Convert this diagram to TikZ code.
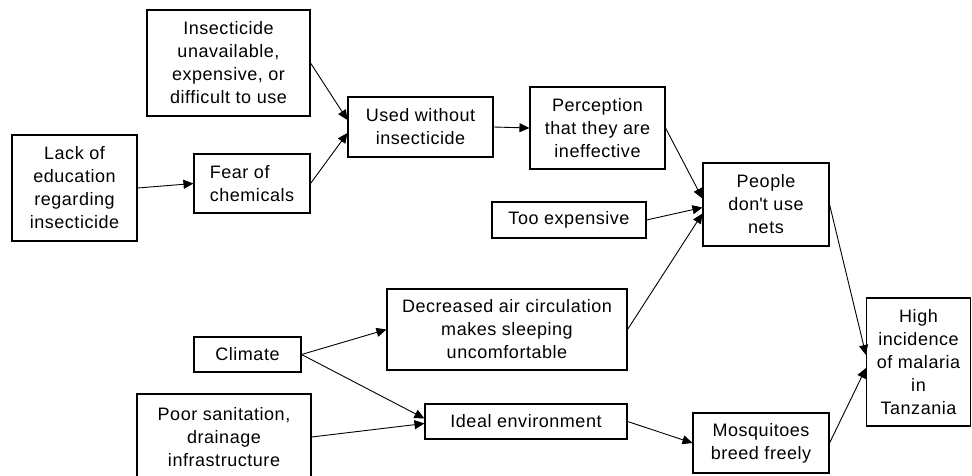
\documentclass[tikz,border=0pt]{standalone}
\usepackage{fontspec}
\setmainfont{Liberation Sans}[LetterSpace=3]
\usetikzlibrary{arrows.meta}
\begin{document}
\begin{tikzpicture}[x=1pt,y=-1pt,
  box/.style={draw=black,line width=1.1pt,inner sep=0pt,align=center,
    font={\fontsize{18}{23}\selectfont}},
  arr/.style={draw=black,line width=0.9pt,-{Triangle[length=10pt,width=9pt]}}]
  % page frame
  \fill[white] (0,0) rectangle (972,476);
  \useasboundingbox (0,0) rectangle (972,476);

  % causes
  \node[box,minimum width=163pt,minimum height=106pt] (insect) at (228.5,63)
    {Insecticide\\unavailable,\\expensive, or\\difficult to use};
  \node[box,minimum width=125pt,minimum height=106pt] (lack) at (74.5,188)
    {Lack of\\education\\regarding\\insecticide};
  \node[box,align=left,minimum width=116pt,minimum height=59pt] (fear) at (252,183.5)
    {Fear of\\chemicals};
  \node[box,minimum width=145pt,minimum height=60pt] (used) at (420.5,127)
    {Used without\\insecticide};
  \node[box,minimum width=135pt,minimum height=82pt] (percep) at (597.5,128)
    {Perception\\that they are\\ineffective};
  \node[box,minimum width=154pt,minimum height=36pt] (tooexp) at (569,220)
    {Too expensive};
  \node[box,minimum width=126pt,minimum height=83pt] (people) at (766,204.5)
    {People\\don\textquotesingle t use\\nets};
  \node[box,minimum width=107pt,minimum height=35pt] (climate) at (247.5,354.5)
    {Climate};
  \node[box,minimum width=240pt,minimum height=81pt] (decr) at (507,329.5)
    {Decreased air circulation\\makes sleeping\\uncomfortable};
  \node[box,minimum width=174pt,minimum height=86pt] (poor) at (224,437)
    {Poor sanitation,\\drainage\\infrastructure};
  \node[box,minimum width=202pt,minimum height=35pt] (ideal) at (526,421.5)
    {Ideal environment};
  \node[box,minimum width=136pt,minimum height=60pt] (mosq) at (761,443)
    {Mosquitoes\\breed freely};
  \node[box,minimum width=104pt,minimum height=128pt] (high) at (918.5,362)
    {High\\incidence\\of malaria\\in\\Tanzania};

  % connectors
  \draw[arr] (insect.east) -- ([yshift=7pt]used.west);
  \draw[arr] (fear.east) -- ([yshift=-6pt]used.west);
  \draw[arr] (lack.east) -- (fear.west);
  \draw[arr] (used.east) -- (percep.west);
  \draw[arr] (percep.east) -- ([yshift=6pt]people.west);
  \draw[arr] (tooexp.east) -- ([yshift=-3pt]people.west);
  \draw[arr] (decr.east) -- ([yshift=-9pt]people.west);
  \draw[arr] (climate.east) -- (decr.west);
  \draw[arr] (climate.east) -- ([yshift=3pt]ideal.west);
  \draw[arr] (poor.east) -- ([yshift=-2pt]ideal.west);
  \draw[arr] (ideal.east) -- (mosq.west);
  \draw[arr] (people.east) -- ([yshift=7pt]high.west);
  \draw[arr] (mosq.east) -- ([yshift=-6pt]high.west);
\end{tikzpicture}
\end{document}
